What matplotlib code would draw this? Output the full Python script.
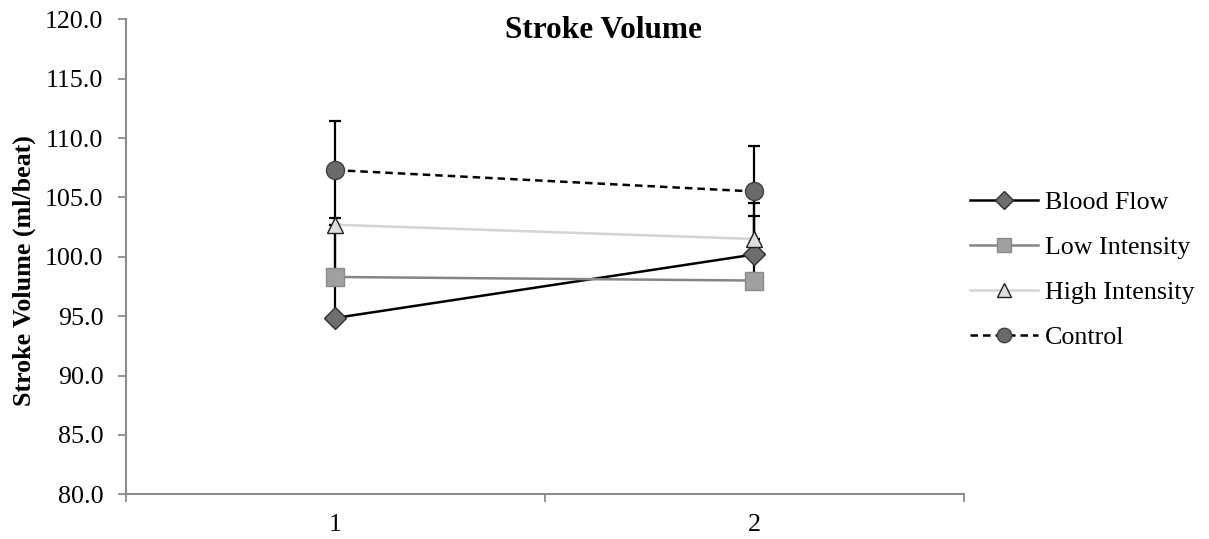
import numpy as np
import matplotlib
matplotlib.use('Agg')
import matplotlib.pyplot as plt
from matplotlib.ticker import FixedLocator, FormatStrFormatter

plt.rcParams['font.family'] = ['Liberation Serif', 'DejaVu Serif']

# data
sessions = [1, 2]
series = ['Blood Flow', 'Low Intensity', 'High Intensity', 'Control']
blood_flow = [94.85, 100.2]
low_intensity = [98.3, 98.0]
high_intensity = [102.7, 101.5]
control = [107.3, 105.5]
# upper error bars only
blood_flow_err = [8.4, 4.3]
low_intensity_err = [4.4, 5.4]
high_intensity_err = [4.6, 4.0]
control_err = [4.1, 3.8]

styles = [
    dict(color='black', ls='-', marker='D', mfc='#6e6e6e', mec='#303030', ms=11),
    dict(color='#858585', ls='-', marker='s', mfc='#a0a0a0', mec='#8a8a8a', ms=13),
    dict(color='#d4d4d4', ls='-', marker='^', mfc='#dedede', mec='#202020', ms=12),
    dict(color='black', ls=(0, (3, 2)), marker='o', mfc='#6a6a6a', mec='#404040', ms=13),
]

fig = plt.figure(figsize=(12.09, 5.39), dpi=100)
ax = fig.add_axes([125.8 / 1209, 1 - 494.3 / 539, (964 - 125.8) / 1209, (494.3 - 19.3) / 539])

values = [blood_flow, low_intensity, high_intensity, control]
errs = [blood_flow_err, low_intensity_err, high_intensity_err, control_err]

for vals, err in zip(values, errs):
    ax.errorbar(sessions, vals, yerr=[[0, 0], err], fmt='none', ecolor='black',
                elinewidth=1.6, capsize=4.3, capthick=1.6, zorder=2)

for name, vals, st in zip(series, values, styles):
    ax.plot(sessions, vals, color=st['color'], linestyle=st['ls'], lw=1.8,
            marker=st['marker'], markerfacecolor=st['mfc'], markeredgecolor=st['mec'],
            markeredgewidth=1.0, markersize=st['ms'], label=name, zorder=3)

ax.set_xlim(0.5, 2.5)
ax.set_ylim(80, 120)
ax.xaxis.set_major_locator(FixedLocator(sessions))
ax.xaxis.set_minor_locator(FixedLocator([0.5, 1.5, 2.5]))
ax.yaxis.set_major_locator(FixedLocator(np.arange(80, 121, 5)))
ax.yaxis.set_major_formatter(FormatStrFormatter('%.1f'))
ax.tick_params(axis='x', which='major', length=0, labelsize=18.7, pad=14)
ax.tick_params(axis='x', which='minor', length=6, width=1.3, color='#8c8c8c', direction='out')
ax.tick_params(axis='y', length=6, width=1.3, color='#8c8c8c', labelsize=18.7, pad=10)

for s in ['top', 'right']:
    ax.spines[s].set_visible(False)
for s in ['left', 'bottom']:
    ax.spines[s].set_color('#8c8c8c')
    ax.spines[s].set_linewidth(1.5)

fig.text(603 / 1209, 1 - 30 / 539, 'Stroke Volume', ha='center', va='center',
         fontsize=22.5, fontweight='bold')
fig.text(24.5 / 1209, 1 - 271 / 539, 'Stroke Volume (ml/beat)', rotation=90,
         ha='center', va='center', fontsize=18.7, fontweight='bold')

ax.legend(loc='center left', bbox_to_anchor=(970 / 1209, 1 - 270 / 539),
          bbox_transform=fig.transFigure, frameon=False, fontsize=18.7,
          handlelength=2.6, handletextpad=0.3, labelspacing=0.85, borderpad=0,
          borderaxespad=0, markerscale=0.8)

fig.savefig('out.png', dpi=100)
